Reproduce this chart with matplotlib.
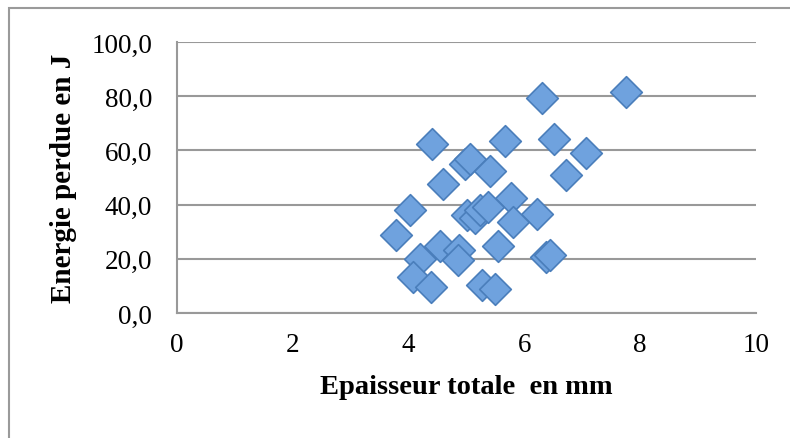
import matplotlib.pyplot as plt
from matplotlib.patches import Rectangle

# thickness (mm) vs energy lost (J)
epaisseur = [6.31, 7.75, 4.41, 5.67, 6.51, 7.07, 4.97, 5.06, 5.40, 4.60,
             6.72, 4.02, 3.79, 5.77, 6.22, 5.81, 5.01, 5.14, 5.23, 5.37,
             4.55, 4.87, 4.85, 5.55, 4.19, 6.38, 6.44, 4.07, 4.38, 5.26,
             5.50]
energie = [79.3, 81.5, 62.5, 63.3, 64.1, 59.2, 55.1, 56.9, 52.3, 47.7,
           50.8, 37.9, 28.6, 42.4, 36.6, 33.6, 36.0, 35.0, 37.9, 39.1,
           24.9, 23.1, 19.4, 24.9, 20.0, 20.7, 21.3, 13.3, 9.6, 10.2,
           9.0]

xticks = [0, 2, 4, 6, 8, 10]
yticks = [0, 20, 40, 60, 80, 100]

fig = plt.figure(figsize=(7.9, 4.39), dpi=100)
fig.patches.append(Rectangle((9 / 790, -0.1), 1.2, 1 - 9 / 439 + 0.1,
                             transform=fig.transFigure, fill=False,
                             edgecolor='#9a9a9a', lw=1.5))

ax = fig.add_axes([177 / 790, 1 - 314 / 439, (756 - 177) / 790, (314 - 43) / 439])
ax.set_xlim(0, 10)
ax.set_ylim(0, 100)
ax.set_xticks(xticks)
ax.set_yticks(yticks)
ax.set_yticklabels([f"{v:.1f}".replace('.', ',') for v in yticks])
ax.yaxis.grid(True, color='#999999', lw=1.5)
ax.set_axisbelow(True)
for s in ['top', 'right']:
    ax.spines[s].set_visible(False)
for s in ['left', 'bottom']:
    ax.spines[s].set_color('#999999')
    ax.spines[s].set_linewidth(1.5)
ax.tick_params(length=0, labelsize=19.5)
ax.tick_params(axis='x', pad=14)
ax.tick_params(axis='y', pad=18)
for lab in ax.get_xticklabels() + ax.get_yticklabels():
    lab.set_family('Liberation Serif')

ax.scatter(epaisseur, energie, marker='D', s=260, color='#6fa2de',
           edgecolors='#4a7ebb', linewidths=1.2, zorder=3, clip_on=False)

ax.set_xlabel("Epaisseur totale  en mm", family='Liberation Serif',
              fontweight='bold', fontsize=20.5, labelpad=12)
ax.set_ylabel("Energie perdue en J", family='Liberation Serif',
              fontweight='bold', fontsize=21, labelpad=10)

fig.savefig('out.png')
